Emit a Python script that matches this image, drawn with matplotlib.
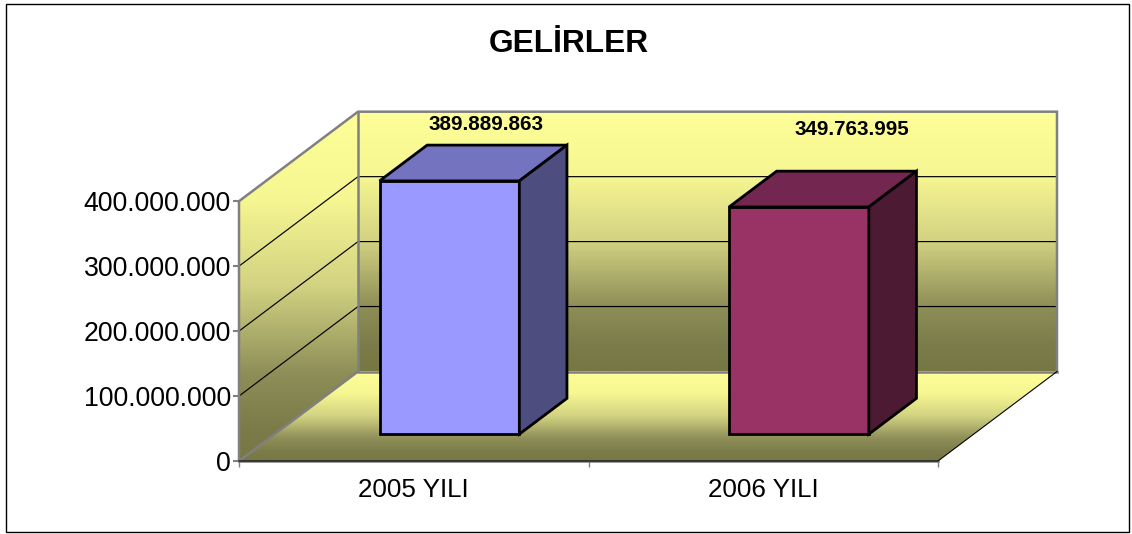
#!/usr/bin/env python3

import numpy as np
import matplotlib
matplotlib.use("Agg")
import matplotlib.pyplot as plt
from matplotlib.colors import LinearSegmentedColormap
from matplotlib.patches import Polygon, Rectangle

plt.rcParams['font.family'] = ['Liberation Sans', 'DejaVu Sans']

title = "GELİRLER"
years = ["2005 YILI", "2006 YILI"]
values = [389889863, 349763995]
labels = ["389.889.863", "349.763.995"]
label_offsets = [(-11, 21), (5, 42)]
front_colors = ["#9999FF", "#993366"]
top_colors = ["#7373BF", "#732650"]
side_colors = ["#4D4D80", "#4D1A33"]
yticks = [0, 100000000, 200000000, 300000000, 400000000]

W, H = 1132, 534
YMAX = 400000000
# depth of the box, in axes units
DX = 119 / 349.5
DY = 89.5 / 259.8 * YMAX
GREY = "#808080"

gradient = LinearSegmentedColormap.from_list(
    "wall", [(0, "#FFFF99"), (0.25, "#F6F692"), (0.5, "#D2D282"), (0.75, "#8E8E58"),
             (0.9, "#7C7C4A"), (1, "#777744")])


def proj(x, v, d):
    return x + d * DX, v + d * DY


def fill_gradient(ax, fig, pts):
    pts = np.array(pts)
    im = ax.imshow(np.linspace(0, 1, 256)[:, np.newaxis], cmap=gradient, aspect="auto",
                   extent=(pts[:, 0].min(), pts[:, 0].max(), pts[:, 1].min(), pts[:, 1].max()),
                   origin="upper", interpolation="bilinear", zorder=1)
    im.set_clip_path(Polygon(pts, transform=ax.transData))
    im.set_clip_box(fig.bbox)


def dots(v):
    return f"{v:,}".replace(",", ".")


def main():
    fig = plt.figure(figsize=(W / 100, H / 100), dpi=100, facecolor="white")
    fig.add_artist(Rectangle((6 / W, 1 - 531.5 / H), 1123 / W, 528 / H, transform=fig.transFigure,
                             facecolor="none", edgecolor="black", linewidth=1.0))
    ax = fig.add_axes([239 / W, 1 - 461 / H, 699 / W, 259.8 / H])

    # walls and floor
    fill_gradient(ax, fig, [proj(0, 0, 1), proj(2, 0, 1), proj(2, YMAX, 1), proj(0, YMAX, 1)])
    fill_gradient(ax, fig, [proj(0, 0, 0), proj(0, 0, 1), proj(0, YMAX, 1), proj(0, YMAX, 0)])
    fill_gradient(ax, fig, [proj(0, 0, 0), proj(2, 0, 0), proj(2, 0, 1), proj(0, 0, 1)])
    ax.set_xlim(0, 2)
    ax.set_ylim(0, YMAX)

    # gridlines
    for v in yticks[1:-1]:
        xs, ys = zip(proj(0, v, 0), proj(0, v, 1), proj(2, v, 1))
        ax.plot(xs, ys, color="black", lw=0.85, clip_on=False, zorder=2)

    # grey edges of the box
    edges = [[proj(0, 0, 0), proj(0, YMAX, 0), proj(0, YMAX, 1), proj(2, YMAX, 1), proj(2, 0, 1)],
             [proj(0, YMAX, 1), proj(0, 0, 1), proj(2, 0, 1)],
             [proj(0, 0, 0), proj(0, 0, 1)],
             [proj(0, 0, 0), proj(2, 0, 0)]]
    for e in edges:
        xs, ys = zip(*e)
        ax.plot(xs, ys, color=GREY, lw=1.8, clip_on=False, zorder=3, solid_joinstyle="miter")
    xs, ys = zip(proj(0, 0, 0), proj(2, 0, 0), proj(2, 0, 1))
    ax.plot(xs, ys, color="black", lw=0.8, clip_on=False, zorder=4)

    # bars
    width = 0.4
    d0, d1 = 0.3, 0.7
    for i, v in enumerate(values):
        x0 = i + 0.5 - width / 2
        x1 = i + 0.5 + width / 2
        faces = [
            ([proj(x0, 0, d0), proj(x1, 0, d0), proj(x1, v, d0), proj(x0, v, d0)], front_colors[i]),
            ([proj(x0, v, d0), proj(x1, v, d0), proj(x1, v, d1), proj(x0, v, d1)], top_colors[i]),
            ([proj(x1, 0, d0), proj(x1, 0, d1), proj(x1, v, d1), proj(x1, v, d0)], side_colors[i]),
        ]
        for pts, c in faces:
            ax.add_patch(Polygon(pts, closed=True, facecolor=c, edgecolor="black", lw=2.0,
                                 joinstyle="miter", clip_on=False, zorder=5))
        off = label_offsets[i]
        ax.annotate(labels[i], xy=proj(i + 0.5, v, d1), xytext=(off[0] * 0.72, off[1] * 0.72),
                    textcoords="offset points", ha="center", va="center", fontsize=14.9,
                    fontweight="bold", color="black", annotation_clip=False, zorder=6)

    # axes
    for s in ax.spines.values():
        s.set_visible(False)
    ax.patch.set_visible(False)
    ax.set_yticks(yticks)
    ax.set_yticklabels([dots(v) for v in yticks], fontsize=19.2)
    ax.tick_params(axis="y", length=4.5, width=1.5, color=GREY, pad=1.2)
    ax.set_xticks([0, 1, 2])
    ax.set_xticklabels(["", "", ""])
    ax.tick_params(axis="x", length=4, width=1.0, color=GREY)
    ax.set_xticks([0.5, 1.5], minor=True)
    ax.set_xticklabels(years, minor=True, fontsize=18.7)
    ax.tick_params(axis="x", which="minor", length=0, pad=12)

    fig.text(568.5 / W, 1 - 44 / H, title, fontsize=22.8, fontweight="bold", ha="center", va="center")

    fig.savefig("out.png", dpi=100)


if __name__ == "__main__":
    main()
